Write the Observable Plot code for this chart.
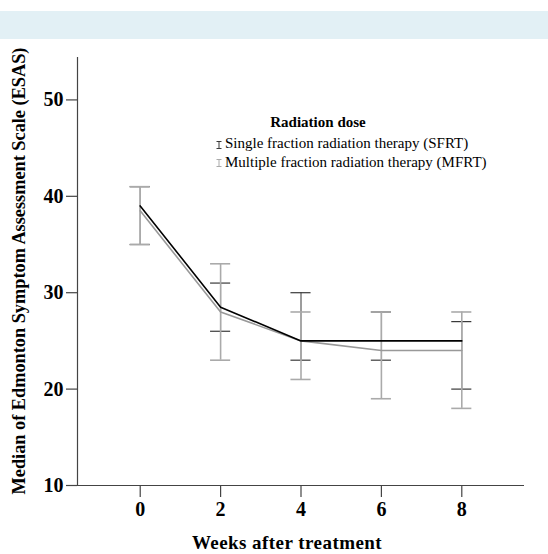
<!DOCTYPE html>
<html>
<head>
<meta charset="utf-8">
<script src="https://cdn.jsdelivr.net/npm/d3@7"></script>
<script src="https://cdn.jsdelivr.net/npm/@observablehq/plot@0.6"></script>
<style>
  html, body { margin: 0; padding: 0; background: #fff; }
  #wrap { position: relative; width: 548px; height: 554px; overflow: hidden; font-family: "Liberation Serif", "Times New Roman", serif; }
  #banner { position: absolute; left: 0; top: 11px; width: 548px; height: 28px; background: #e2f0f5; }
  #chart { position: absolute; left: 0; top: 0; }
  #chart svg, #chart svg g, #chart svg text { font-family: "Liberation Serif", "Times New Roman", serif !important; font-variant: normal !important; font-variant-numeric: normal !important; }
  .abs { position: absolute; white-space: nowrap; color: #000; line-height: 1; }
  #xtitle { font-weight: bold; font-size: 19px; letter-spacing: 0.45px; left: 0; width: 574px; text-align: center; top: 533px; }
  #ytitle { font-weight: bold; font-size: 18.3px; left: 19px; top: 271px; transform: translate(-50%, -50%) rotate(-90deg); }
  #legend { position: absolute; left: 216px; top: 112px; }
  #legtitle { font-weight: bold; font-size: 15px; left: 52px; width: 100px; text-align: center; top: 3px; }
  .legrow { font-size: 15px; left: 0; }
  .legrow svg { vertical-align: middle; margin-right: 3px; }
</style>
</head>
<body>
<div id="wrap">
  <div id="banner"></div>
  <div id="chart"></div>
  <div id="xtitle" class="abs">Weeks after treatment</div>
  <div id="ytitle" class="abs">Median of Edmonton Symptom Assessment Scale (ESAS)</div>
  <div id="legend"></div>
</div>
<script>
// ---- data ----
const weeks = [0, 2, 4, 6, 8];
const sfrtMedian = [39, 28.5, 25, 25, 25];
const sfrtLow    = [35, 26, 23, 23, 20];
const sfrtHigh   = [41, 31, 30, 28, 27];
const mfrtMedian = [38.5, 28, 25, 24, 24];
const mfrtLow    = [35, 23, 21, 19, 18];
const mfrtHigh   = [41, 33, 28, 28, 28];
const seriesNames = ["Single fraction radiation therapy (SFRT)", "Multiple fraction radiation therapy (MFRT)"];
const legendTitle = "Radiation dose";
const xTicks = [0, 2, 4, 6, 8];
const yTicks = [10, 20, 30, 40, 50];
const xDomain = [-1.56, 9.56];
const yDomain = [10, 54.4];

const colors = { sfrtLine: "#000", sfrtBar: "#3a3a3a", mfrtLine: "#999", mfrtBar: "#aaa" };

const sfrt = weeks.map((w, i) => ({ week: w, median: sfrtMedian[i], lo: sfrtLow[i], hi: sfrtHigh[i] }));
const mfrt = weeks.map((w, i) => ({ week: w, median: mfrtMedian[i], lo: mfrtLow[i], hi: mfrtHigh[i] }));
const capHalf = 0.25;

const serif = "Liberation Serif";
const axisColor = "#444";
const chart = Plot.plot({
  width: 548,
  height: 554,
  marginLeft: 77,
  marginRight: 24,
  marginTop: 57,
  marginBottom: 69,
  style: { fontFamily: serif, background: "transparent", overflow: "visible" },
  x: { domain: xDomain },
  y: { domain: yDomain },
  marks: [
    // error bars SFRT
    Plot.ruleX(sfrt, { x: "week", y1: "lo", y2: "hi", stroke: colors.sfrtBar, strokeWidth: 1 }),
    Plot.ruleY(sfrt, { y: "lo", x1: d => d.week - capHalf, x2: d => d.week + capHalf, stroke: colors.sfrtBar, strokeWidth: 1.2 }),
    Plot.ruleY(sfrt, { y: "hi", x1: d => d.week - capHalf, x2: d => d.week + capHalf, stroke: colors.sfrtBar, strokeWidth: 1.2 }),
    // error bars MFRT
    Plot.ruleX(mfrt, { x: "week", y1: "lo", y2: "hi", stroke: colors.mfrtBar, strokeWidth: 1.6 }),
    Plot.ruleY(mfrt, { y: "lo", x1: d => d.week - capHalf, x2: d => d.week + capHalf, stroke: colors.mfrtBar, strokeWidth: 1.6 }),
    Plot.ruleY(mfrt, { y: "hi", x1: d => d.week - capHalf, x2: d => d.week + capHalf, stroke: colors.mfrtBar, strokeWidth: 1.6 }),
    // lines
    Plot.line(mfrt, { x: "week", y: "median", stroke: colors.mfrtLine, strokeWidth: 1.6 }),
    Plot.line(sfrt, { x: "week", y: "median", stroke: colors.sfrtLine, strokeWidth: 1.6 }),
    // axis lines
    Plot.ruleX([xDomain[0]], { stroke: axisColor, strokeWidth: 1.2 }),
    Plot.ruleY([yDomain[0]], { stroke: axisColor, strokeWidth: 1.2 }),
    // axes
    Plot.axisX({ ticks: xTicks, tickSize: 12, tickPadding: 4, fontSize: 20, fontWeight: "bold", fontFamily: serif, fontVariant: "normal", stroke: axisColor, strokeWidth: 1.2, fill: "#000", label: null }),
    Plot.axisY({ ticks: yTicks, tickSize: 11, tickPadding: 3, fontSize: 20, fontWeight: "bold", fontFamily: serif, fontVariant: "normal", stroke: axisColor, strokeWidth: 1.2, fill: "#000", label: null })
  ]
});
document.getElementById("chart").appendChild(chart);

// legend
const legend = document.getElementById("legend");
const t = document.createElement("div");
t.id = "legtitle"; t.className = "abs"; t.textContent = legendTitle;
legend.appendChild(t);
const legColors = [colors.sfrtBar, colors.mfrtBar];
seriesNames.forEach((name, i) => {
  const row = document.createElement("div");
  row.className = "abs legrow";
  row.style.top = (24 + i * 18.5) + "px";
  row.innerHTML = `<svg width="6" height="8"><path d="M0.5,0.5H5.5M3,0.5V7.5M0.5,7.5H5.5" stroke="${legColors[i]}" stroke-width="1" fill="none"/></svg>`;
  row.appendChild(document.createTextNode(name));
  legend.appendChild(row);
});
</script>
</body>
</html>
